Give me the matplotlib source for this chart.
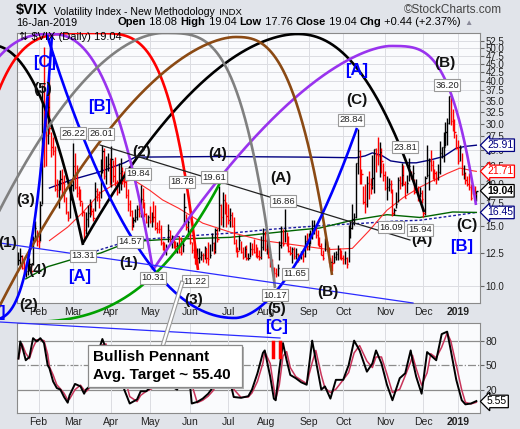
import numpy as np
import pandas as pd
import matplotlib
matplotlib.use("Agg")
import matplotlib.pyplot as plt
from matplotlib.patches import Rectangle
from matplotlib.ticker import NullLocator, NullFormatter

plt.rcParams["font.family"] = ["Liberation Sans", "DejaVu Sans"]

# ---- data ---------------------------------------------------------------
holidays = ["2018-02-19", "2018-03-30", "2018-05-28", "2018-07-04", "2018-09-03",
            "2018-11-22", "2018-12-05", "2018-12-25", "2019-01-01"]
dates = pd.bdate_range("2018-01-17", "2019-01-16", freq="C", holidays=holidays)

highs = [
    12.6, 12.9, 12.3, 11.9, 11.6, 12.4, 12.1, 11.6, 14.0, 15.5, 14.6,
    14.1, 17.8, 38.8, 50.3, 31.6, 36.2, 41.1, 28.4, 27.3, 25.8, 20.6, 20.5, 21.9, 22.1, 21.2, 18.3, 16.6, 18.9, 20.3,
    26.22, 24.6, 22.7, 19.6, 19.3, 17.6, 16.6, 16.5, 17.3, 18.0, 17.6, 16.9, 20.2, 19.4, 19.0, 23.6, 26.01, 25.5, 24.1, 24.6, 23.8,
    25.7, 23.4, 24.0, 20.5, 23.0, 23.8, 22.3, 21.8, 20.4, 19.3, 17.9, 16.7, 16.0, 16.8, 17.3, 17.5, 19.84, 19.4, 17.7, 16.4, 16.2,
    17.2, 16.5, 17.8, 17.3, 15.4, 15.6, 15.1, 13.6, 13.5, 13.3, 15.2, 14.6, 14.1, 14.0, 13.6, 13.5, 14.0, 13.9, 13.5, 18.78, 16.3, 15.7,
    14.7, 13.5, 13.0, 12.4, 12.9, 12.9, 12.7, 12.5, 13.1, 12.9, 13.5, 13.3, 14.3, 13.5, 14.8, 14.8, 19.61, 17.4, 18.9, 18.6, 17.6,
    17.4, 16.9, 16.5, 15.9, 13.7, 13.0, 14.1, 13.6, 13.0, 13.1, 13.2, 12.5, 13.5, 13.4, 13.7, 13.3, 13.0, 12.8, 14.0, 14.8, 14.5,
    13.8, 13.5, 12.4, 12.0, 11.4, 11.3, 11.6, 13.6, 15.0, 14.7, 16.86, 14.4, 14.0, 13.1, 13.0, 13.0, 12.9, 12.5, 12.3, 12.7, 12.6, 14.1, 14.3,
    14.3, 14.6, 15.6, 15.6, 15.2, 14.6, 13.9, 13.4, 12.8, 13.8, 13.6, 13.0, 12.1, 12.3, 12.6, 12.7, 13.2, 12.9, 12.8,
    12.3, 12.7, 12.2, 15.1, 15.5, 17.4, 16.4, 23.0, 28.84, 25.0, 22.0, 19.6, 20.0, 21.0, 21.8, 20.8, 24.3, 25.3, 25.5, 27.4, 26.5, 25.5, 23.0,
    21.7, 21.0, 20.8, 20.5, 19.3, 17.0, 18.9, 20.9, 21.0, 23.0, 22.6, 20.4, 21.2, 23.81, 21.7, 22.7, 20.6, 20.6, 19.7, 19.5, 19.2,
    17.0, 21.0, 25.9, 23.8, 25.0, 23.5, 22.0, 21.8, 22.8, 26.6, 25.6, 28.3, 30.3, 31.2, 36.20, 36.1, 33.1, 30.9, 27.9,
    26.9, 26.0, 24.6, 22.6, 21.6, 21.0, 21.5, 19.9, 19.8, 19.6, 19.04,
]
lows = [
    11.5, 11.6, 11.2, 10.9, 10.6, 10.8, 11.1, 10.9, 11.5, 13.6, 13.1,
    12.9, 13.6, 17.4, 22.4, 22.5, 26.1, 28.0, 24.0, 24.2, 19.0, 18.3, 17.0, 19.2, 18.5, 17.6, 16.3, 15.5, 15.8, 17.9,
    19.0, 19.3, 18.3, 17.9, 17.2, 16.1, 13.6, 14.2, 14.9, 15.9, 16.2, 15.5, 16.6, 17.8, 16.9, 18.1, 21.4, 20.6, 19.9, 21.7, 19.8,
    19.5, 20.2, 19.7, 18.5, 18.7, 19.2, 20.0, 19.5, 18.1, 16.6, 16.1, 14.57, 14.9, 15.4, 15.6, 15.9, 15.9, 16.9, 16.0, 15.3, 14.9,
    15.3, 14.9, 15.4, 14.6, 14.3, 14.3, 13.2, 12.8, 12.6, 12.3, 13.5, 13.3, 12.9, 12.9, 12.5, 12.5, 12.5, 12.3, 12.6, 15.2, 14.6, 13.9,
    13.3, 12.5, 12.1, 11.6, 11.3, 11.7, 11.9, 11.8, 12.0, 11.7, 11.5, 12.1, 12.7, 12.4, 12.5, 13.5, 14.5, 15.1, 14.9, 16.3, 14.9,
    15.2, 14.9, 14.9, 13.3, 12.6, 12.2, 12.8, 12.5, 12.0, 12.2, 11.9, 11.9, 12.2, 12.3, 12.5, 12.2, 12.1, 11.9, 12.0, 12.8, 12.7,
    12.4, 12.1, 11.4, 11.1, 10.17, 10.6, 10.7, 11.9, 12.9, 13.1, 13.5, 13.1, 12.6, 12.3, 11.65, 12.0, 12.0, 11.8, 11.9, 12.0, 11.8, 12.2, 12.8,
    12.8, 13.3, 13.7, 14.2, 13.8, 13.2, 13.0, 12.3, 11.9, 12.7, 12.7, 11.7, 11.4, 11.1, 11.7, 11.9, 11.9, 12.0, 11.9,
    11.6, 11.6, 11.3, 11.8, 13.8, 14.7, 15.1, 15.8, 21.3, 19.9, 20.0, 17.4, 16.4, 17.1, 18.0, 18.6, 19.3, 18.7, 21.6, 22.6, 20.9, 21.5, 20.4,
    19.1, 17.9, 19.0, 18.8, 16.09, 16.2, 16.9, 17.6, 19.3, 19.6, 19.8, 18.1, 18.7, 20.3, 20.6, 20.5, 18.6, 18.9, 17.8, 18.2, 17.5,
    15.94, 16.2, 20.9, 19.1, 21.8, 20.6, 20.3, 19.9, 20.5, 21.3, 23.7, 23.1, 25.8, 25.9, 29.9, 29.6, 28.6, 27.2, 25.2,
    22.8, 23.3, 21.2, 20.6, 19.9, 19.6, 19.1, 17.9, 18.6, 18.5, 17.76,
]
closes = [
    11.91, 12.22, 11.27, 11.03, 11.10, 11.47, 11.58, 11.08, 13.84, 14.79, 13.54,
    13.47, 17.31, 37.32, 29.98, 27.73, 33.46, 29.06, 25.61, 24.97, 19.26, 19.13, 19.46, 20.60, 20.02, 18.72, 16.49, 15.80, 18.59, 19.85,
    22.47, 19.59, 18.73, 18.36, 17.76, 16.54, 14.64, 15.78, 16.35, 17.23, 16.59, 15.80, 19.02, 18.20, 17.86, 23.34, 24.87, 21.03, 22.50, 22.87, 19.97,
    23.62, 21.10, 20.06, 18.94, 21.49, 21.77, 20.47, 20.24, 18.49, 17.41, 16.56, 15.25, 15.60, 15.96, 16.88, 16.34, 18.02, 17.84, 16.24, 15.41, 15.93,
    15.49, 15.97, 15.90, 14.77, 14.75, 14.71, 13.42, 13.23, 12.65, 12.93, 14.63, 13.42, 13.43, 13.42, 13.08, 13.22, 12.58, 12.53, 13.22, 17.02, 14.94, 15.43,
    13.46, 12.74, 12.40, 11.64, 12.13, 12.18, 12.35, 12.34, 12.94, 12.12, 11.98, 12.31, 13.35, 12.79, 14.64, 13.77, 17.33, 15.92, 17.91, 16.85, 16.09,
    15.60, 16.14, 14.97, 13.37, 12.69, 12.64, 13.63, 12.58, 12.18, 12.83, 12.06, 12.10, 12.87, 12.86, 12.62, 12.41, 12.29, 12.14, 13.03, 14.26, 12.83,
    13.15, 12.19, 11.64, 11.27, 10.93, 10.85, 11.27, 13.16, 14.78, 13.31, 14.64, 13.45, 12.64, 12.49, 12.86, 12.25, 12.41, 11.99, 12.16, 12.50, 12.25, 13.53, 12.86,
    13.16, 13.91, 14.65, 14.88, 14.16, 13.22, 13.14, 12.37, 12.07, 13.68, 12.79, 11.75, 11.80, 11.68, 12.20, 12.42, 12.89, 12.41, 12.12,
    12.00, 12.05, 11.61, 14.22, 14.82, 15.69, 15.95, 22.96, 24.98, 21.31, 21.30, 17.62, 17.40, 20.06, 19.89, 19.64, 20.71, 25.23, 24.22, 24.16, 24.70, 23.35, 21.23,
    19.34, 19.51, 19.96, 19.91, 16.36, 16.72, 17.36, 20.45, 20.02, 21.25, 19.98, 18.14, 20.10, 22.48, 20.80, 21.52, 18.90, 19.02, 18.49, 18.79, 18.07,
    16.44, 20.74, 21.19, 23.23, 22.64, 21.76, 21.46, 20.65, 21.63, 24.52, 25.58, 25.58, 28.38, 30.11, 36.07, 30.41, 29.96, 28.34, 25.42,
    23.22, 25.45, 21.38, 21.40, 20.47, 19.98, 19.50, 18.19, 19.07, 18.60, 19.04,
]

# overlay lines (trading-day index, value)
ma_red_idx = [17, 27, 35, 45, 54, 63, 72, 79, 88, 101, 116, 134, 152, 170, 183, 192, 202, 211, 220, 228, 235, 242, 249, 251]
ma_red_val = [13.6, 14.9, 16.4, 18.8, 20.1, 20.5, 19.1, 17.9, 16.9, 15.3, 14.4, 13.6, 13.2, 12.8, 12.9, 14.5, 16.7, 18.2, 19.5, 20.5, 21.4, 22.2, 21.8, 21.71]
upper_idx = [17, 29, 44, 58, 64, 110, 160, 185, 190, 194, 199, 204, 211, 218, 225, 233, 240, 245, 251]
upper_val = [19.4, 20.5, 21.6, 23.0, 23.9, 24.0, 23.9, 23.8, 24.1, 24.6, 24.2, 23.3, 23.0, 23.0, 23.4, 24.0, 25.4, 25.7, 25.91]
ma_green_idx = [4, 16, 30, 45, 61, 80, 116, 153, 165, 183, 202, 220, 238, 251]
ma_green_val = [10.5, 11.4, 12.0, 12.5, 13.5, 13.7, 13.9, 14.6, 14.8, 15.6, 16.2, 15.9, 16.5, 16.45]
ma_dot_idx = [30, 45, 61, 90, 116, 140, 170, 190, 205, 220, 235, 251]
ma_dot_val = [12.0, 12.8, 13.6, 14.0, 14.3, 14.7, 15.1, 15.3, 15.5, 15.6, 16.0, 16.45]

osc_idx = [0, 1, 2, 4, 6, 8, 10, 12, 14, 16, 17, 19, 21, 23, 25, 27, 28, 31, 34, 36, 37, 39, 42, 44, 46, 48, 50, 52,
           54, 56, 58, 61, 65, 67, 70, 73, 76, 79, 82, 84, 87, 89, 91, 93, 95, 98, 101, 104, 107, 110, 112, 114,
           116, 118, 122, 126, 128, 131, 134, 135, 138, 140, 141, 143, 145, 147, 149, 152, 155, 158, 161, 163, 166,
           168, 171, 174, 178, 181, 184, 187, 191, 194, 196, 199, 202, 205, 209, 212, 215, 216, 218, 221, 224, 226,
           229, 232, 235, 237, 240, 243, 245, 248, 251]
osc_val = [58, 79, 73, 56, 60, 83, 79, 83, 77, 50, 46, 30, 22, 20, 11, 4, 13, 27, 24, 15, 20, 24, 38, 68, 82, 70, 55, 62,
           48, 55, 20, 3, 8, 18, 18, 24, 35, 30, 30, 24, 20, 36, 60, 50, 3, 5, 9, 15, 24, 60, 70, 55,
           30, 11, 10, 12, 20, 40, 65, 68, 36, 9, 7, 45, 77, 56, 38, 34, 29, 26, 80, 56, 20,
           24, 9, 32, 32, 50, 80, 68, 42, 52, 68, 52, 26, 7, 34, 40, 68, 56, 36, 15, 66, 62,
           56, 88, 91, 68, 32, 7, 2, 3, 6]

price_ticks = [10.0, 12.5, 15.0, 17.5, 20.0, 22.5, 25.0, 27.5, 30.0, 32.5, 35.0, 37.5, 40.0, 42.5, 45.0, 47.5, 50.0, 52.5]

# ---- figure -------------------------------------------------------------
W, H = 520, 429
BG = "#e1e4ea"
fig = plt.figure(figsize=(W / 100, H / 100), dpi=100, facecolor=BG)


def box(x0, y0, x1, y1):
    return [x0 / W, 1 - y1 / H, (x1 - x0) / W, (y1 - y0) / H]


ax = fig.add_axes(box(17, 33, 480, 303))
ax2 = fig.add_axes(box(17, 323, 480, 413))

x = np.arange(len(dates))
hi = np.array(highs)
lo = np.array(lows)
cl = np.array(closes)
up = np.r_[True, cl[1:] >= cl[:-1]]
col = np.where(up, "black", "#ff0000")

month_pos = [i for i in range(1, len(dates)) if dates[i].month != dates[i - 1].month]
month_lab = [dates[i].strftime("%b") if dates[i].month != 1 else str(dates[i].year) for i in month_pos]

for a in (ax, ax2):
    a.set_facecolor("#fafbfd")
    a.set_xlim(-0.8, 253)
    for s in a.spines.values():
        s.set_color("#8a8a8a")
        s.set_linewidth(0.8)
    a.set_xticks(month_pos, month_lab)
    a.tick_params(axis="x", length=0, pad=3, labelsize=7.5, labelcolor="#222")
    a.grid(axis="x", color="#dcdde2", lw=0.7)
    for t in a.get_xticklabels():
        if t.get_text() == "2019":
            t.set_fontweight("bold")

# main price panel
ax.set_yscale("log")
ax.set_ylim(8.92, 55.3)
ax.yaxis.tick_right()
ax.set_yticks(price_ticks, [f"{v:.1f}" for v in price_ticks])
ax.yaxis.set_minor_locator(NullLocator())
ax.yaxis.set_minor_formatter(NullFormatter())
ax.tick_params(axis="y", length=3, pad=1, labelsize=7, labelcolor="#222", color="#666")
ax.grid(axis="y", color="#dcdde2", lw=0.7)

ax.vlines(x, lo, hi, colors=col, lw=1.0, zorder=3)
ax.hlines(cl, x, x + 0.7, colors=col, lw=1.0, zorder=3)
ax.plot(ma_dot_idx, ma_dot_val, color="#1a1aa0", lw=1.0, ls=(0, (2, 1.5)), zorder=2)
ax.plot(ma_green_idx, ma_green_val, color="#006400", lw=1.0, zorder=2)
ax.plot(upper_idx, upper_val, color="#000080", lw=1.0, zorder=2)
ax.plot(ma_red_idx, ma_red_val, color="#ff2a2a", lw=0.8, zorder=2)

for v, c, w in [(upper_val[-1], "#000080", "normal"), (ma_red_val[-1], "#ff0000", "normal"),
                (closes[-1], "black", "bold"), (ma_green_val[-1], "#000080", "normal")]:
    ax.annotate(f"{v:.2f}", xy=(1, v), xycoords=("axes fraction", "data"), xytext=(5, 0),
                textcoords="offset points", va="center", ha="left", fontsize=7.5, color=c,
                fontweight=w, annotation_clip=False, zorder=6,
                bbox=dict(boxstyle="larrow,pad=0.12", fc="white", ec=c, lw=0.9))

# oscillator panel
ax2.set_ylim(-8.6, 101.6)
ax2.yaxis.tick_right()
ax2.set_yticks([20, 50, 80], ["20", "50", "80"])
ax2.tick_params(axis="y", length=3, pad=1, labelsize=7.5, labelcolor="#222", color="#666")
for lvl, ls in [(80, "-"), (20, "-"), (50, "-.")]:
    ax2.axhline(lvl, color="#8c8c8c", lw=0.9, ls=ls, zorder=1)
osc = pd.Series(osc_val, index=osc_idx, dtype=float)
sig = osc.rolling(2, min_periods=1).mean()
ax2.plot(sig.index, sig.values, color="#c8345a", lw=1.1, zorder=3)
ax2.plot(osc.index, osc.values, color="black", lw=1.4, zorder=4)
ax2.annotate("5.55", xy=(1, 5.55), xycoords=("axes fraction", "data"), xytext=(5, 0),
             textcoords="offset points", va="center", ha="left", fontsize=7.5, color="black",
             annotation_clip=False, bbox=dict(boxstyle="larrow,pad=0.12", fc="white", ec="black", lw=0.9))

# ---- overlay in pixel space: header, cycle arcs, wave counts -----------
ov = fig.add_axes([0, 0, 1, 1])
ov.set_xlim(0, W)
ov.set_ylim(H, 0)
ov.axis("off")
ov.patch.set_alpha(0)
ov.set_zorder(5)

t = ov.text(16, 14, "$VIX", fontsize=10.5, fontweight="bold", va="baseline", parse_math=False)
t = ov.annotate("  Volatility Index - New Methodology", xy=(1, 0), xycoords=t, va="bottom", fontsize=7.6)
ov.annotate("  INDX", xy=(1, 0), xycoords=t, va="bottom", fontsize=6.8)
ov.text(502, 10, "\u00a9StockCharts.com", fontsize=8.5, color="#444", va="center", ha="right")
ov.text(16, 23, "16-Jan-2019", fontsize=7.8, va="center")
t = ov.text(118, 27, "Open", fontsize=8, fontweight="bold", va="bottom")
for s, b in [(" 18.08 ", False), ("High", True), (" 19.04 ", False), ("Low", True), (" 17.76 ", False),
             ("Close", True), (" 19.04 ", False), ("Chg", True), (" +0.44 (+2.37%) ", False)]:
    t = ov.annotate(s, xy=(1, 0), xycoords=t, va="bottom", ha="left", fontsize=8,
                    fontweight="bold" if b else "normal")
ov.annotate("\u25b2", xy=(1, 0), xycoords=t, va="bottom", ha="left", fontsize=6, color="#8a8a9a")
ov.text(19, 37, "\u21c5 $VIX (Daily) 19.04", fontsize=8, va="center", parse_math=False, zorder=7)

clip = Rectangle((0, 33), 480, 287, transform=ov.transData)


def arc(x1, y1, xp, yp, x2, y2, pl, pr, n=200):
    xl = np.linspace(x1, xp, n)
    xr = np.linspace(xp, x2, n)
    yl = yp + (y1 - yp) * ((xp - xl) / (xp - x1)) ** pl
    yr = yp + (y2 - yp) * ((xr - xp) / (x2 - xp)) ** pr
    return np.r_[xl, xr], np.r_[yl, yr]


arcs = [
    ("black", -100, 245, -10, 45, 83, 245, 2.2, 2.2),
    ("black", 83, 243, 297, 34, 424, 212, 1.8, 2.2),
    ("#ff0000", -40, 270, 90, 33, 198, 270, 4, 4),
    ("#9933ee", -80, 270, 50, 34, 153, 270, 2.5, 2.5),
    ("#9933ee", 153, 270, 390, 46, 476, 205, 1.6, 3.5),
    ("#808080", -37, 288, 163, 33, 275, 288, 1.8, 3.5),
    ("#8b4a14", -5, 315, 235, 37, 332, 275, 1.7, 2.8),
    ("#0000ff", -60, 35, -15, 320, 52, 35, 2, 3.5),
    ("#0000ff", 47, 35, 235, 318, 357, 128, 2.1, 1.8),
    ("#00a000", -100, 183, 20, 322, 220, 183, 2.7, 2.7),
]
for c, *p in arcs:
    ax_, ay_ = arc(*p)
    ln, = ov.plot(ax_, ay_, color=c, lw=1.9, zorder=3, solid_capstyle="butt")
    ln.set_clip_path(clip)

ov.plot([0, 413], [243, 303], color="#2a2aff", lw=0.9, zorder=3)
ov.plot([0, 280], [322, 338], color="#2a2aff", lw=0.9, zorder=3)
ov.plot([100, 410], [145, 240], color="#222", lw=0.9, zorder=3)

# wave labels
for s, px, py in [("(5)", 43, 89), ("(3)", 26, 200), ("(1)", 17, 243), ("(4)", 38, 270), ("(2)", 29, 305),
                  ("(2)", 142, 152), ("(1)", 129, 263), ("(4)", 218, 154), ("(3)", 194, 300),
                  ("(A)", 281, 178), ("(5)", 277, 309), ("(B)", 328, 292), ("(C)", 357, 100),
                  ("(A)", 422, 240), ("(B)", 445, 63), ("(C)", 467, 225)]:
    ov.text(px, py, s, fontsize=11, fontweight="bold", color="#111", ha="right" if px == 17 else "center",
            va="center", zorder=6)
for s, px, py in [("[C]", 45, 62), ("[B]", 100, 106), ("[A]", 80, 277), ("[A]", 357, 70),
                  ("[B]", 462, 247), ("[C]", 277, 327), ("]", 2, 313)]:
    ov.text(px, py, s, fontsize=12, fontweight="bold", color="#0000ff", ha="center", va="center", zorder=6)

for s, px, py in [("26.22", 73, 133), ("26.01", 101, 134), ("19.84", 138, 174), ("14.57", 130, 242),
                  ("13.31", 83, 256), ("10.31", 153, 278), ("11.22", 195, 281), ("18.78", 182, 182),
                  ("19.61", 214, 177), ("16.86", 283, 201), ("11.65", 295, 274), ("10.17", 275, 295),
                  ("28.84", 351, 120), ("23.81", 405, 147), ("16.09", 391, 227), ("15.94", 420, 230),
                  ("36.20", 447, 85)]:
    ov.text(px, py, s, fontsize=6.8, color="#222", ha="center", va="center", zorder=6,
            bbox=dict(boxstyle="square,pad=0.15", fc="white", ec="#999", lw=0.8))

# red markers in lower panel
ov.plot([273, 273], [342, 357], color="#ff0000", lw=2.5, zorder=6)
ov.plot([280, 280], [342, 357], color="#ff0000", lw=2.5, zorder=6)

# callout
ov.plot([163, 182], [345, 283], color="#999", lw=3.2, zorder=6)
ov.plot([163, 182], [345, 283], color="white", lw=1.6, zorder=6)
ov.add_patch(Rectangle((90, 347), 154, 42, fc="#b0b0b0", ec="none", zorder=6))
ov.add_patch(Rectangle((88, 345), 154, 42, fc="white", ec="#8a8a8a", lw=0.9, zorder=7))
ov.text(93, 357, "Bullish Pennant", fontsize=11, fontweight="bold", va="center", zorder=8)
ov.text(93, 375, "Avg. Target ~ 55.40", fontsize=11, fontweight="bold", va="center", zorder=8)

fig.savefig("out.png", dpi=100, facecolor=BG)
